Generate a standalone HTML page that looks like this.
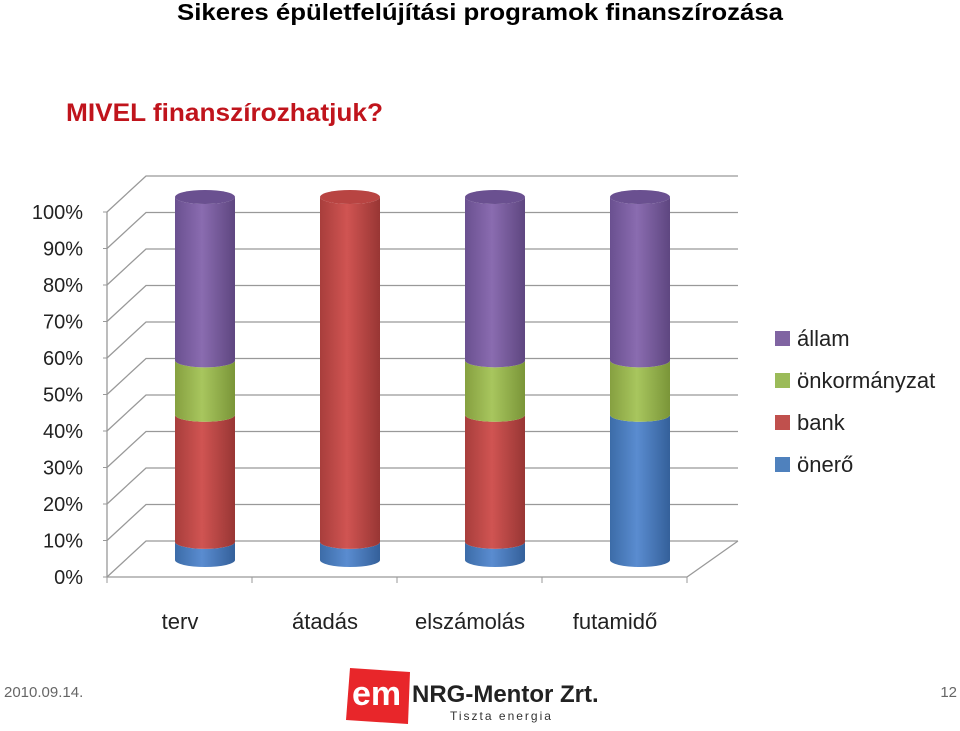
<!DOCTYPE html>
<html><head><meta charset="utf-8"><style>
body{margin:0;width:960px;height:726px;background:#fff;overflow:hidden;font-family:"Liberation Sans",sans-serif}
</style></head><body>
<svg width="960" height="726" viewBox="0 0 960 726" xmlns="http://www.w3.org/2000/svg">
<defs>
<linearGradient id="g-purple" x1="0" x2="1"><stop offset="0" stop-color="#6a5090"/><stop offset="0.45" stop-color="#8a6cb0"/><stop offset="1" stop-color="#5e4680"/></linearGradient>
<linearGradient id="g-green" x1="0" x2="1"><stop offset="0" stop-color="#86a040"/><stop offset="0.45" stop-color="#a8c65e"/><stop offset="1" stop-color="#7a9538"/></linearGradient>
<linearGradient id="g-red" x1="0" x2="1"><stop offset="0" stop-color="#a83e3c"/><stop offset="0.45" stop-color="#d05452"/><stop offset="1" stop-color="#983634"/></linearGradient>
<linearGradient id="g-blue" x1="0" x2="1"><stop offset="0" stop-color="#3c6ca8"/><stop offset="0.45" stop-color="#5a8cd0"/><stop offset="1" stop-color="#34609a"/></linearGradient>
</defs>
<text x="177" y="20" textLength="606" lengthAdjust="spacingAndGlyphs" font-size="23" font-weight="bold" fill="#000">Sikeres épületfelújítási programok finanszírozása</text>
<text x="66" y="121" textLength="317" lengthAdjust="spacingAndGlyphs" font-size="25" font-weight="bold" fill="#c0141c">MIVEL finanszírozhatjuk?</text>
<g id="axes"></g>
<g id="bars"></g>
<g id="legend"></g>
<text x="4" y="697" font-size="15" fill="#666">2010.09.14.</text>
<text x="957" y="697" font-size="15" fill="#666" text-anchor="end">12</text>
<g>
<polygon points="350,668 410,672 408,724 346,720" fill="#e8262a"/>
<text x="352" y="705" font-size="34" font-weight="bold" fill="#fff">em</text>
<text x="412" y="702" font-size="24" font-weight="bold" fill="#222">NRG-Mentor Zrt.</text>
<text x="450" y="720" font-size="12" fill="#333" letter-spacing="2">Tiszta energia</text>
</g>
</svg>
<script>
const categories=["terv","átadás","elszámolás","futamidő"];
const seriesNames=["állam","önkormányzat","bank","önerő"];
const onero=[5,5,5,40];
const bank=[35,95,35,0];
const onkormanyzat=[15,0,15,15];
const allam=[45,0,45,45];
const tickLabels=["0%","10%","20%","30%","40%","50%","60%","70%","80%","90%","100%"];
const NS="http://www.w3.org/2000/svg";
function mk(t,a,p){const e=document.createElementNS(NS,t);for(const k in a)e.setAttribute(k,a[k]);p.appendChild(e);return e;}
const ax=document.getElementById('axes'),bars=document.getElementById('bars'),lg=document.getElementById('legend');
const yFront=v=>212+(1-v/100)*365, dx=39, dy=-36;
const xL=107,xR=687;
const yCyl=v=>560-v*3.63;
const xCat=i=>205+i*145;
tickLabels.forEach((t,i)=>{const v=i*10;const y=yFront(v);
 const l=mk('polyline',{points:`${xL},${y} ${xL+dx},${y+dy} ${xR+dx+12},${y+dy}`,fill:'none',stroke:'#999','stroke-width':1.3},ax);
 
 mk('line',{x1:xL-4,y1:y,x2:xL,y2:y,stroke:'#999'},ax);
 const tx=mk('text',{x:83,y:y+7,'text-anchor':'end','font-size':20,fill:'#222'},ax);tx.textContent=t;
 
});
mk('line',{x1:xL,y1:yFront(0),x2:xL,y2:yFront(100),stroke:'#999','stroke-width':1.3},ax);
mk('polyline',{points:`${xL},577 ${xR},577 ${xR+dx+12},541`,fill:'none',stroke:'#999','stroke-width':1.3},ax);
for(let i=0;i<=4;i++){mk('line',{x1:xL+i*145,y1:577,x2:xL+i*145,y2:583,stroke:'#999'},ax);}
categories.forEach((c,i)=>{const t=mk('text',{x:xCat(i)-25,y:629,'text-anchor':'middle','font-size':22,fill:'#222'},ax);t.textContent=c;
 });
const stack=[[onero,'g-blue','#4a78b8'],[bank,'g-red','#b84442'],[onkormanyzat,'g-green','#92ae48'],[allam,'g-purple','#6a5090']];
const hw=30,ry=7;
categories.forEach((c,i)=>{let base=0;const cx=xCat(i);
 stack.forEach(([arr,g,topc],si)=>{const v=arr[i];if(!v)return;
  const y0=yCyl(base),y1=yCyl(base+v);
  const p=mk('path',{d:`M${cx-hw},${y1} L${cx-hw},${y0} A${hw},${ry} 0 0 0 ${cx+hw},${y0} L${cx+hw},${y1} A${hw},${ry} 0 0 1 ${cx-hw},${y1} Z`,fill:`url(#${g})`},bars);
  
  base+=v;
  if(base>=100){mk('ellipse',{cx:cx,cy:y1,rx:hw,ry:ry,fill:topc},bars);}
 });
});
const lc=['#8064a2','#9bbb59','#c0504d','#4f81bd'];
seriesNames.forEach((n,i)=>{const y=338+i*42;
 const r=mk('rect',{x:775,y:y-7,width:15,height:15,fill:lc[i]},lg);
 
 const t=mk('text',{x:797,y:y+8,'font-size':22,fill:'#222'},lg);t.textContent=n;
 
});
</script>
</body></html>
